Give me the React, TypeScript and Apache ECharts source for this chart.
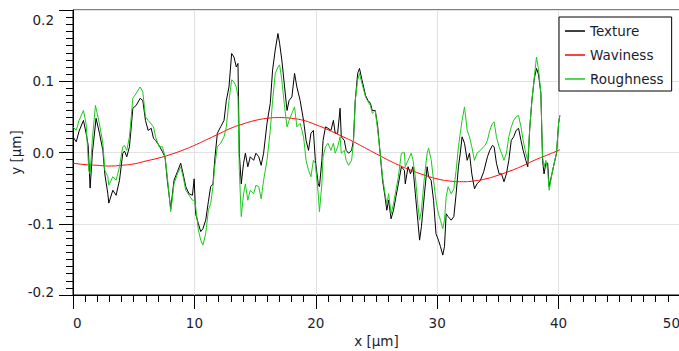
import React, { useEffect, useRef } from "react";
import * as echarts from "echarts";

const seriesNames = ["Texture", "Waviness", "Roughness"];
const xTicks = [0, 10, 20, 30, 40, 50];
const yTicks = [-0.2, -0.1, 0.0, 0.1, 0.2];

const texture: [number, number][] = [
  [0, 0.022], [0.27, 0.015], [0.5, 0.03], [0.86, 0.045], [1.08, 0.027], [1.25, 0.01], [1.41, -0.05],
  [1.6, 0.0], [1.9, 0.048], [2.18, 0.027], [2.46, 0.003], [2.62, -0.03], [2.87, -0.058], [2.95, -0.071],
  [3.28, -0.053], [3.55, -0.06], [3.83, -0.039], [4.1, -0.001], [4.24, 0.002], [4.43, -0.006],
  [4.65, 0.008], [4.93, 0.062], [5.2, 0.066], [5.53, 0.076], [5.75, 0.073], [5.97, 0.045],
  [6.19, 0.031], [6.44, 0.034], [6.63, 0.02], [6.8, 0.017], [7.09, 0.01], [7.37, 0.001], [7.58, -0.006],
  [7.77, -0.039], [8.05, -0.079], [8.32, -0.039], [8.6, -0.027], [8.87, -0.015], [9.07, -0.03],
  [9.29, -0.048], [9.56, -0.058], [9.84, -0.06], [9.98, -0.037], [10.1, -0.086], [10.33, -0.1],
  [10.52, -0.111], [10.7, -0.107], [10.93, -0.095], [11.15, -0.069], [11.34, -0.048], [11.53, -0.044],
  [11.67, -0.011], [11.89, 0.027], [12.16, 0.036], [12.44, 0.045], [12.63, 0.073], [12.85, 0.092],
  [13.07, 0.139], [13.26, 0.134], [13.45, 0.12], [13.59, 0.125], [13.7, -0.001], [13.86, -0.044],
  [14.05, -0.015], [14.2, -0.001], [14.4, -0.02], [14.6, -0.006], [14.88, -0.011], [15.07, -0.001],
  [15.3, -0.006], [15.5, -0.018], [15.7, -0.001], [15.98, 0.041], [16.25, 0.069], [16.44, 0.116],
  [16.66, 0.144], [16.88, 0.167], [17.02, 0.153], [17.2, 0.13], [17.43, 0.092], [17.63, 0.059],
  [17.8, 0.073], [18.03, 0.078], [18.25, 0.111], [18.44, 0.092], [18.71, 0.073], [18.99, 0.045],
  [19.2, 0.017], [19.4, 0.003], [19.6, 0.027], [19.8, 0.031], [19.96, -0.011], [20.2, -0.044],
  [20.3, -0.048], [20.5, -0.011], [20.6, 0.017], [20.8, 0.036], [21.0, 0.034], [21.25, 0.031],
  [21.45, 0.045], [21.6, 0.027], [21.8, 0.027], [22.0, 0.062], [22.1, 0.022], [22.35, 0.017],
  [22.5, 0.003], [22.7, -0.001], [22.95, 0.003], [23.1, 0.017], [23.25, 0.073], [23.45, 0.111],
  [23.6, 0.118], [23.8, 0.102], [24.1, 0.08], [24.3, 0.073], [24.5, 0.069], [24.65, 0.059],
  [24.9, 0.059], [25.1, 0.036], [25.3, -0.001], [25.5, -0.039], [25.7, -0.062], [25.85, -0.081],
  [26.0, -0.067], [26.2, -0.093], [26.4, -0.081], [26.6, -0.062], [26.8, -0.044], [27.05, -0.02],
  [27.3, -0.025], [27.37, -0.044], [27.6, -0.02], [27.8, -0.03], [28.0, -0.02], [28.2, -0.058],
  [28.4, -0.095], [28.55, -0.123], [28.7, -0.104], [28.95, -0.058], [29.17, -0.02], [29.29, -0.034],
  [29.5, -0.039], [29.7, -0.067], [29.9, -0.114], [30.1, -0.123], [30.27, -0.132], [30.46, -0.144],
  [30.6, -0.132], [30.74, -0.086], [30.9, -0.09], [31.15, -0.095], [31.37, -0.09], [31.56, -0.058],
  [31.75, -0.02], [31.9, -0.001], [32.05, 0.022], [32.25, 0.013], [32.47, -0.011], [32.66, -0.001],
  [32.85, -0.03], [33.07, -0.051], [33.28, -0.044], [33.56, -0.039], [33.83, -0.027], [34.14, -0.006],
  [34.33, 0.003], [34.55, 0.01], [34.69, 0.008], [34.88, -0.015], [35.1, -0.03], [35.3, -0.03],
  [35.5, -0.041], [35.7, -0.03], [35.9, -0.011], [36.1, 0.017], [36.3, 0.022], [36.5, 0.031],
  [36.7, 0.034], [36.9, 0.017], [37.08, 0.003], [37.3, -0.011], [37.46, -0.02], [37.63, 0.036],
  [37.8, 0.073], [38.0, 0.104], [38.18, 0.118], [38.35, 0.109], [38.54, 0.083], [38.68, -0.011],
  [38.8, -0.03], [38.95, -0.015], [39.1, -0.015], [39.22, -0.048], [39.45, -0.03], [39.64, -0.015],
  [39.83, -0.001], [40.0, 0.041], [40.1, 0.052],
];

const waviness: [number, number][] = [
  [0, -0.015], [1, -0.017], [2, -0.018], [3, -0.019], [4, -0.018], [5, -0.016], [6, -0.012],
  [7, -0.008], [8, -0.003], [9, 0.003], [10, 0.01], [11, 0.018], [12, 0.026], [13, 0.034],
  [14, 0.04], [15, 0.045], [16, 0.048], [17, 0.049], [18, 0.048], [19, 0.045], [20, 0.039],
  [21, 0.032], [22, 0.024], [23, 0.016], [24, 0.007], [25, -0.002], [26, -0.011], [27, -0.019],
  [28, -0.026], [29, -0.032], [30, -0.037], [31, -0.04], [32, -0.041], [33, -0.04], [34, -0.037],
  [35, -0.032], [36, -0.026], [37, -0.019], [38, -0.011], [39, -0.004], [40, 0.003], [40.1, 0.004],
];

const roughness: [number, number][] = [
  [0, 0.036], [0.27, 0.031], [0.5, 0.045], [0.86, 0.059], [1.08, 0.04], [1.3, -0.025], [1.41, -0.03],
  [1.6, 0.02], [1.85, 0.066], [2.18, 0.04], [2.46, 0.013], [2.62, -0.025], [2.87, -0.034], [2.95, -0.046],
  [3.28, -0.034], [3.55, -0.039], [3.83, -0.02], [4.1, 0.008], [4.24, 0.01], [4.43, 0.003], [4.65, 0.022],
  [4.93, 0.076], [5.2, 0.083], [5.53, 0.092], [5.75, 0.085], [5.97, 0.05], [6.19, 0.045], [6.44, 0.04],
  [6.63, 0.036], [6.8, 0.022], [7.09, 0.008], [7.37, 0.008], [7.58, -0.006], [7.77, -0.034], [8.05, -0.083],
  [8.32, -0.044], [8.6, -0.03], [8.87, -0.02], [9.07, -0.034], [9.29, -0.053], [9.56, -0.06], [9.84, -0.067],
  [10.0, -0.067], [10.1, -0.076], [10.33, -0.109], [10.52, -0.123], [10.7, -0.13], [10.93, -0.114],
  [11.15, -0.081], [11.34, -0.072], [11.53, -0.048], [11.67, -0.02], [11.89, 0.008], [12.16, 0.013],
  [12.44, 0.022], [12.63, 0.036], [12.85, 0.073], [13.07, 0.102], [13.26, 0.099], [13.45, 0.092],
  [13.59, 0.078], [13.7, -0.025], [13.86, -0.09], [14.05, -0.058], [14.2, -0.044], [14.4, -0.067],
  [14.6, -0.053], [14.88, -0.058], [15.07, -0.046], [15.3, -0.048], [15.5, -0.065], [15.7, -0.039],
  [15.98, -0.011], [16.25, 0.031], [16.44, 0.073], [16.66, 0.111], [16.88, 0.12], [17.02, 0.123],
  [17.2, 0.102], [17.43, 0.064], [17.63, 0.036], [17.8, 0.045], [18.03, 0.055], [18.25, 0.064],
  [18.44, 0.036], [18.71, 0.041], [18.99, 0.022], [19.2, -0.011], [19.4, -0.025], [19.6, -0.034],
  [19.8, -0.011], [19.96, -0.015], [20.2, -0.058], [20.3, -0.083], [20.5, -0.044], [20.6, -0.006],
  [20.8, 0.008], [21.0, 0.013], [21.25, 0.003], [21.45, 0.013], [21.6, -0.001], [21.8, 0.008],
  [22.0, 0.022], [22.1, -0.001], [22.35, 0.003], [22.5, -0.011], [22.7, -0.018], [22.95, -0.011],
  [23.1, 0.013], [23.25, 0.073], [23.45, 0.102], [23.6, 0.111], [23.8, 0.097], [24.1, 0.078],
  [24.3, 0.071], [24.5, 0.066], [24.65, 0.055], [24.9, 0.059], [25.1, 0.031], [25.3, -0.001],
  [25.5, -0.034], [25.7, -0.058], [25.85, -0.072], [26.0, -0.058], [26.2, -0.086], [26.4, -0.072],
  [26.6, -0.053], [26.8, -0.034], [27.05, -0.001], [27.3, 0.0], [27.37, -0.02], [27.6, -0.011],
  [27.85, -0.001], [28.0, -0.01], [28.2, -0.034], [28.4, -0.072], [28.55, -0.095], [28.7, -0.081],
  [28.95, -0.034], [29.17, -0.001], [29.29, 0.006], [29.5, -0.01], [29.7, -0.039], [29.9, -0.067],
  [30.1, -0.086], [30.27, -0.095], [30.46, -0.107], [30.6, -0.095], [30.74, -0.062], [30.9, -0.048],
  [31.15, -0.058], [31.37, -0.051], [31.56, -0.025], [31.75, 0.008], [31.9, 0.027], [32.05, 0.045],
  [32.25, 0.064], [32.47, 0.031], [32.66, 0.022], [32.85, 0.008], [33.07, -0.011], [33.28, -0.001],
  [33.56, 0.003], [33.7, 0.006], [33.95, 0.01], [34.14, 0.017], [34.33, 0.031], [34.55, 0.041],
  [34.69, 0.043], [34.88, 0.022], [35.1, 0.008], [35.3, -0.001], [35.5, -0.011], [35.7, -0.001],
  [35.9, 0.022], [36.1, 0.036], [36.3, 0.045], [36.5, 0.05], [36.7, 0.052], [36.9, 0.036],
  [37.08, 0.017], [37.3, -0.001], [37.46, -0.011], [37.63, 0.036], [37.8, 0.073], [38.0, 0.106],
  [38.18, 0.134], [38.35, 0.116], [38.54, 0.083], [38.68, -0.006], [38.8, -0.02], [38.95, -0.011],
  [39.1, -0.025], [39.22, -0.053], [39.45, -0.03], [39.64, -0.015], [39.83, 0.0], [40.0, 0.041],
  [40.1, 0.052],
];

const FONT = "DejaVu Sans";
const TXT = "#1c1c30";

export default function App() {
  const ref = useRef<HTMLDivElement>(null);
  useEffect(() => {
    if (!ref.current) return;
    const chart = echarts.init(ref.current, undefined, { renderer: "svg" });
    const yMin = yTicks[0];
    const yMax = yTicks[yTicks.length - 1];
    chart.setOption({
      animation: false,
      backgroundColor: "#ffffff",
      grid: {
        left: 73,
        right: -1,
        top: 10,
        bottom: 56,
        show: true,
        borderColor: "#000",
        borderWidth: 1,
        backgroundColor: "transparent",
        containLabel: false,
        outerBoundsMode: "none",
      },
      legend: {
        data: seriesNames,
        orient: "vertical",
        left: 559,
        top: 17,
        icon: "rect",
        itemWidth: 20,
        itemHeight: 1.5,
        itemGap: 8,
        padding: [6, 8, 4, 6],
        borderColor: "#000",
        borderWidth: 1,
        backgroundColor: "#fff",
        textStyle: { fontFamily: FONT, fontSize: 13.5, color: TXT, lineHeight: 16 },
      },
      xAxis: {
        type: "value",
        min: xTicks[0],
        max: xTicks[xTicks.length - 1],
        interval: 10,
        name: "x [µm]",
        nameLocation: "middle",
        nameGap: 39,
        nameMoveOverlap: false,
        nameTextStyle: { fontFamily: FONT, fontSize: 13.5, color: TXT },
        axisLine: { show: true, onZero: false, lineStyle: { color: "#000", width: 1 } },
        axisTick: { show: true, inside: false, length: 14, lineStyle: { color: "#000" } },
        minorTick: { show: true, splitNumber: 10, length: 7, lineStyle: { color: "#000" } },
        splitLine: { show: true, lineStyle: { color: "#e2e2e2", width: 1 } },
        axisLabel: {
          fontFamily: FONT,
          fontSize: 13.5,
          color: TXT,
          margin: 21,
          alignMinLabel: "left",
          alignMaxLabel: "right",
        },
      },
      yAxis: {
        type: "value",
        min: yMin,
        max: yMax,
        interval: 0.1,
        name: "y [µm]",
        nameLocation: "middle",
        nameGap: 50,
        nameMoveOverlap: false,
        nameRotate: 90,
        nameTextStyle: { fontFamily: FONT, fontSize: 13.5, color: TXT },
        axisLine: { show: true, onZero: false, lineStyle: { color: "#000", width: 1 } },
        axisTick: { show: true, inside: false, length: 14, lineStyle: { color: "#000" } },
        minorTick: { show: true, splitNumber: 10, length: 7, lineStyle: { color: "#000" } },
        splitLine: { show: true, lineStyle: { color: "#e2e2e2", width: 1 } },
        axisLabel: {
          fontFamily: FONT,
          fontSize: 13.5,
          color: TXT,
          margin: 19,
          formatter: (v: number) => {
            const s = v.toFixed(1);
            if (Math.abs(v - yMax) < 1e-9) return "{t|" + s + "}";
            if (Math.abs(v - yMin) < 1e-9) return "{b|" + s + "}";
            return s;
          },
          rich: {
            t: { fontFamily: FONT, fontSize: 13.5, color: TXT, padding: [20, 0, 0, 0] },
            b: { fontFamily: FONT, fontSize: 13.5, color: TXT, padding: [0, 0, 7, 0] },
          },
        },
      },
      series: [
        {
          name: seriesNames[0],
          type: "line",
          data: texture,
          showSymbol: false,
          color: "#000000",
          lineStyle: { color: "#000000", width: 1 },
        },
        {
          name: seriesNames[1],
          type: "line",
          data: waviness,
          showSymbol: false,
          smooth: true,
          color: "#ff0000",
          lineStyle: { color: "#ff0000", width: 1 },
        },
        {
          name: seriesNames[2],
          type: "line",
          data: roughness,
          showSymbol: false,
          color: "#1ec81e",
          lineStyle: { color: "#1ec81e", width: 1 },
        },
      ],
    });
    return () => chart.dispose();
  }, []);
  return (
    <div
      ref={ref}
      style={{ position: "fixed", left: 0, top: 0, width: 679, height: 351 }}
    />
  );
}
